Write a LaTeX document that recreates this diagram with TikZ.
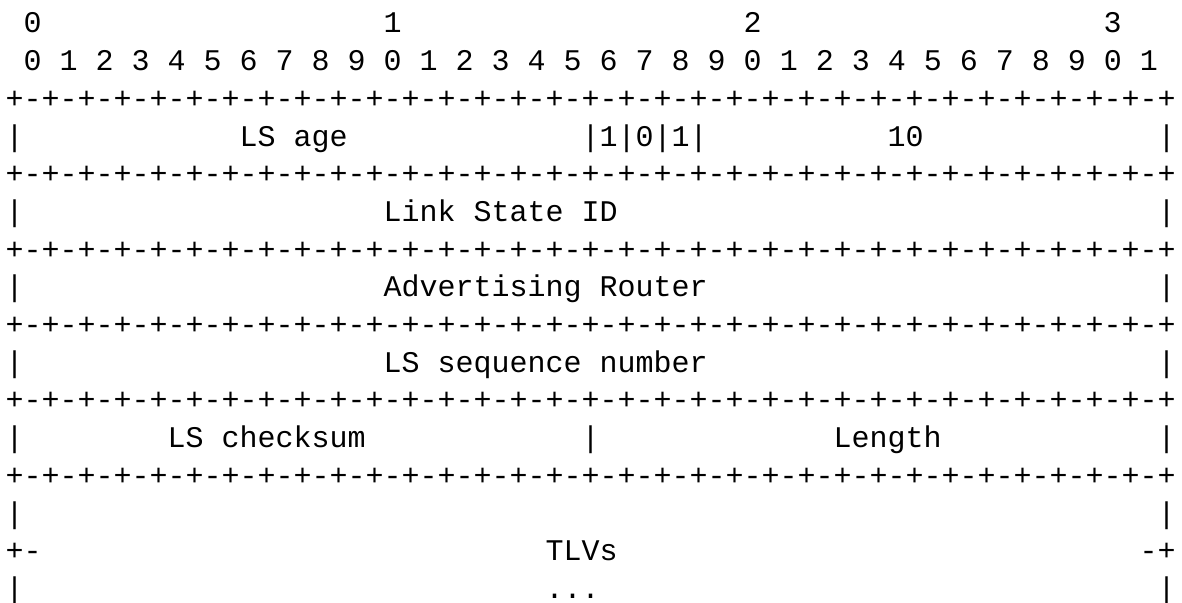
\documentclass[tikz,border=0pt]{standalone}
\usepackage{fontspec}
\newfontfamily\asciifont{Liberation Mono}
\tikzset{
  ascii/.style={font=\asciifont\fontsize{30}{36}\selectfont, inner sep=0pt, anchor=base west},
  rulerow/.style={ascii}
}
\begin{document}
\begin{tikzpicture}[x=1pt, y=1pt]
\useasboundingbox (0, 0) rectangle (1182, -602);

% bit numbering
\node[ascii] (tens0) at (23.5, -32.9) {0};
\node[ascii] (tens1) at (383.5, -32.9) {1};
\node[ascii] (tens2) at (743.5, -32.9) {2};
\node[ascii] (tens3) at (1103.5, -32.9) {3};
\node[ascii] (units) at (23.5, -70.6) {0 1 2 3 4 5 6 7 8 9 0 1 2 3 4 5 6 7 8 9 0 1 2 3 4 5 6 7 8 9 0 1};

% separator rows
\node[rulerow] (rule1) at (5.5, -108.3) {+-+-+-+-+-+-+-+-+-+-+-+-+-+-+-+-+-+-+-+-+-+-+-+-+-+-+-+-+-+-+-+-+};
\node[rulerow] (rule2) at (5.5, -183.7) {+-+-+-+-+-+-+-+-+-+-+-+-+-+-+-+-+-+-+-+-+-+-+-+-+-+-+-+-+-+-+-+-+};
\node[rulerow] (rule3) at (5.5, -259.1) {+-+-+-+-+-+-+-+-+-+-+-+-+-+-+-+-+-+-+-+-+-+-+-+-+-+-+-+-+-+-+-+-+};
\node[rulerow] (rule4) at (5.5, -334.5) {+-+-+-+-+-+-+-+-+-+-+-+-+-+-+-+-+-+-+-+-+-+-+-+-+-+-+-+-+-+-+-+-+};
\node[rulerow] (rule5) at (5.5, -409.9) {+-+-+-+-+-+-+-+-+-+-+-+-+-+-+-+-+-+-+-+-+-+-+-+-+-+-+-+-+-+-+-+-+};
\node[rulerow] (rule6) at (5.5, -485.3) {+-+-+-+-+-+-+-+-+-+-+-+-+-+-+-+-+-+-+-+-+-+-+-+-+-+-+-+-+-+-+-+-+};

% word 1
\node[ascii] (barL1) at (5.5, -146.0) {|};
\node[ascii] (lsage) at (239.5, -146.0) {LS age};
\node[ascii] (flags) at (581.5, -146.0) {|1|0|1|};
\node[ascii] (lstype) at (887.5, -146.0) {10};
\node[ascii] (barR1) at (1157.5, -146.0) {|};

% word 2
\node[ascii] (barL2) at (5.5, -221.4) {|};
\node[ascii] (lsid) at (383.5, -221.4) {Link State ID};
\node[ascii] (barR2) at (1157.5, -221.4) {|};

% word 3
\node[ascii] (barL3) at (5.5, -296.8) {|};
\node[ascii] (advrtr) at (383.5, -296.8) {Advertising Router};
\node[ascii] (barR3) at (1157.5, -296.8) {|};

% word 4
\node[ascii] (barL4) at (5.5, -372.2) {|};
\node[ascii] (seqnum) at (383.5, -372.2) {LS sequence number};
\node[ascii] (barR4) at (1157.5, -372.2) {|};

% word 5
\node[ascii] (barL5) at (5.5, -447.6) {|};
\node[ascii] (cksum) at (167.5, -447.6) {LS checksum};
\node[ascii] (barM5) at (581.5, -447.6) {|};
\node[ascii] (length) at (833.5, -447.6) {Length};
\node[ascii] (barR5) at (1157.5, -447.6) {|};

% TLVs
\node[ascii] (barL6) at (5.5, -523.0) {|};
\node[ascii] (barR6) at (1157.5, -523.0) {|};
\node[ascii] (cornL) at (5.5, -560.7) {+-};
\node[ascii] (tlvs) at (545.5, -560.7) {TLVs};
\node[ascii] (cornR) at (1139.5, -560.7) {-+};
\node[ascii] (barL7) at (5.5, -598.4) {|};
\node[ascii] (dots) at (545.5, -598.4) {...};
\node[ascii] (barR7) at (1157.5, -598.4) {|};
\end{tikzpicture}
\end{document}
